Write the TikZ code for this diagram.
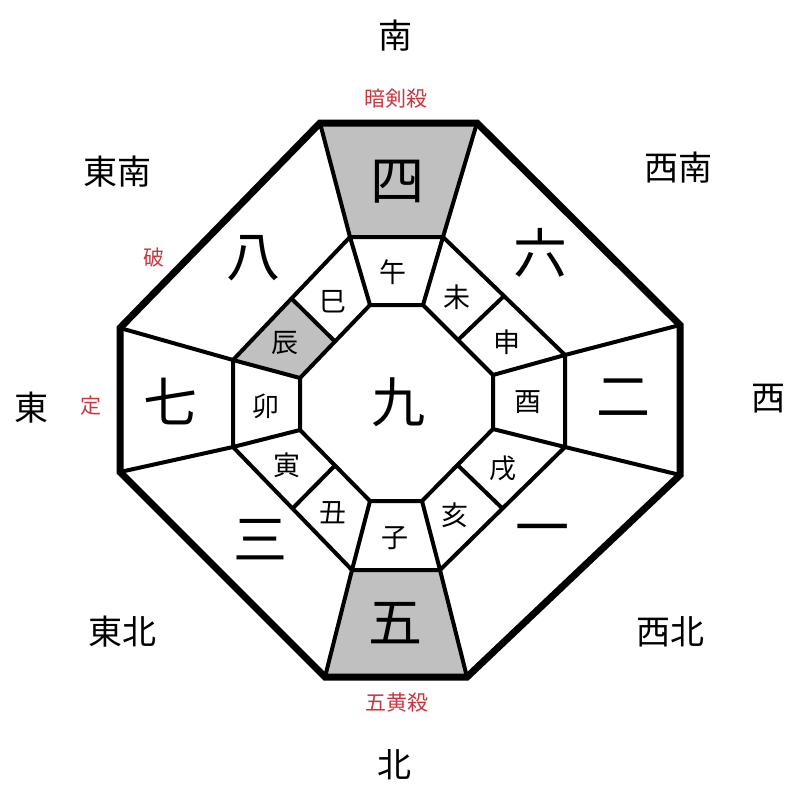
\documentclass[tikz,border=0pt]{standalone}
\usepackage{fontspec}
\usetikzlibrary{calc}
\newfontfamily\cjk{Noto Sans CJK JP}
\definecolor{cellgray}{RGB}{192,192,192}
\definecolor{warnred}{RGB}{200,55,65}
\tikzset{
  outerline/.style={line width=7pt, line join=miter},
  innerline/.style={line width=4pt, line join=miter},
  dirtext/.style={font=\cjk\fontsize{34}{34}\selectfont, inner sep=0pt},
  redtext/.style={font=\cjk\fontsize{21}{21}\selectfont, text=warnred, inner sep=0pt},
  startext/.style={font=\cjk\fontsize{54}{54}\selectfont, inner sep=0pt},
  branchtext/.style={font=\cjk\fontsize{27}{27}\selectfont, inner sep=0pt}
}
\begin{document}
\begin{tikzpicture}[x=1pt,y=-1pt]
\useasboundingbox (0,0) rectangle (800,800);
\fill[white] (0,0) rectangle (800,800);
% outer octagon
\coordinate (O1) at (320,123); \coordinate (O2) at (477,123);
\coordinate (O3) at (680,325); \coordinate (O4) at (680,475);
\coordinate (O5) at (467,677); \coordinate (O6) at (325,677);
\coordinate (O7) at (120,472); \coordinate (O8) at (120,328);
% middle octagon
\coordinate (M1) at (350,237); \coordinate (M2) at (443,237);
\coordinate (M3) at (565,355); \coordinate (M4) at (565,447);
\coordinate (M5) at (440,570); \coordinate (M6) at (352,570);
\coordinate (M7) at (233,447); \coordinate (M8) at (233,360);
% inner octagon
\coordinate (I1) at (370,305); \coordinate (I2) at (423,305);
\coordinate (I3) at (493,375); \coordinate (I4) at (493,429);
\coordinate (I5) at (422,501); \coordinate (I6) at (370,501);
\coordinate (I7) at (300,430); \coordinate (I8) at (300,378);
% diagonal dividers of middle ring
\coordinate (D23) at ($(M2)!0.5!(M3)$); \coordinate (E23) at ($(I2)!0.5!(I3)$);
\coordinate (D45) at ($(M4)!0.5!(M5)$); \coordinate (E45) at ($(I4)!0.5!(I5)$);
\coordinate (D67) at ($(M6)!0.5!(M7)$); \coordinate (E67) at ($(I6)!0.5!(I7)$);
\coordinate (D81) at ($(M8)!0.5!(M1)$); \coordinate (E81) at ($(I8)!0.5!(I1)$);
% gray cells
\fill[cellgray] (O1) -- (O2) -- (M2) -- (M1) -- cycle;
\fill[cellgray] (O6) -- (O5) -- (M5) -- (M6) -- cycle;
\fill[cellgray] (M8) -- (D81) -- (E81) -- (I8) -- cycle;
% radial lines outer ring
\draw[innerline] (O1) -- (M1) (O2) -- (M2) (O3) -- (M3) (O4) -- (M4)
  (O5) -- (M5) (O6) -- (M6) (O7) -- (M7) (O8) -- (M8);
% radial lines middle ring
\draw[innerline] (M1) -- (I1) (M2) -- (I2) (M3) -- (I3) (M4) -- (I4)
  (M5) -- (I5) (M6) -- (I6) (M7) -- (I7) (M8) -- (I8);
\draw[innerline] (D23) -- (E23) (D45) -- (E45) (D67) -- (E67) (D81) -- (E81);
% octagons
\draw[innerline] (M1) -- (M2) -- (M3) -- (M4) -- (M5) -- (M6) -- (M7) -- (M8) -- cycle;
\draw[innerline] (I1) -- (I2) -- (I3) -- (I4) -- (I5) -- (I6) -- (I7) -- (I8) -- cycle;
\draw[outerline] (O1) -- (O2) -- (O3) -- (O4) -- (O5) -- (O6) -- (O7) -- (O8) -- cycle;
% directions
\node[dirtext] (south) at (395,36) {南};
\node[dirtext] (north) at (394,765) {北};
\node[dirtext] (east) at (31,408) {東};
\node[dirtext] (west) at (768,399) {西};
\node[dirtext] (se) at (117,172) {東南};
\node[dirtext] (sw) at (678,168) {西南};
\node[dirtext] (ne) at (122,632) {東北};
\node[dirtext] (nw) at (670,632) {西北};
% red labels
\node[redtext] (anken) at (396,99) {暗剣殺};
\node[redtext] (gooh) at (397,703) {五黄殺};
\node[redtext] (ha) at (154,258) {破};
\node[redtext] (tei) at (91,406) {定};
% stars
\node[startext] (s4) at (397,182) {四};
\node[startext] (s8) at (253,258) {八};
\node[startext] (s6) at (540,253) {六};
\node[startext] (s7) at (170,401) {七};
\node[startext] (s2) at (623,398) {二};
\node[startext] (s3) at (260,540) {三};
\node[startext] (s1) at (542,536) {一};
\node[startext] (s5) at (395,623) {五};
\node[startext] (s9) at (398,402) {九};
% branches
\node[branchtext] (uma) at (393,272) {午};
\node[branchtext] (hitsuji) at (457,297) {未};
\node[branchtext] (saru) at (507,342) {申};
\node[branchtext] (tori) at (528,402) {酉};
\node[branchtext] (inu) at (503,468) {戌};
\node[branchtext] (i) at (455,515) {亥};
\node[branchtext] (ne2) at (395,538) {子};
\node[branchtext] (ushi) at (333,513) {丑};
\node[branchtext] (tora) at (287,465) {寅};
\node[branchtext] (u) at (266,406) {卯};
\node[branchtext] (tatsu) at (285,343) {辰};
\node[branchtext] (mi) at (333,302) {巳};
\end{tikzpicture}
\end{document}
